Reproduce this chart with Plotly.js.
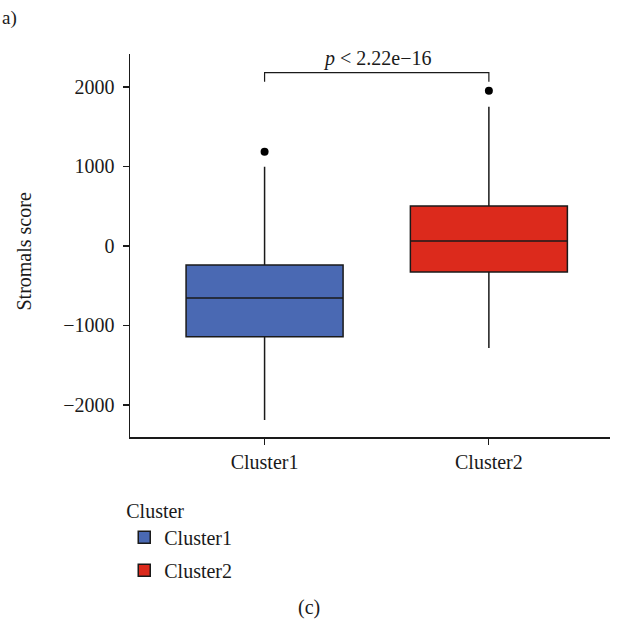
<!DOCTYPE html>
<html>
<head>
<meta charset="utf-8">
<script src="https://cdn.plot.ly/plotly-3.0.1.min.js"></script>
<style>html,body{margin:0;padding:0;background:#fff;}#chart{width:619px;height:626px;}</style>
</head>
<body>
<div id="chart"></div>
<script>
// ---- data ----
const categories = ['Cluster1', 'Cluster2'];
const q1Values = [-1141, -327];
const medianValues = [-656, 63];
const q3Values = [-239, 503];
const lowerFenceValues = [-2189, -1283];
const upperFenceValues = [997, 1752];
const outlierValues = [1186, 1953];
const boxColors = ['#4A69B3', '#DC2A1C'];
const bracketTop = 2180;
const bracketBottom = 2067;
const pLabel = '<i>p</i> < 2.22e\u221216';
const yTitle = 'Stromals score';
const yTickValues = [-2000, -1000, 0, 1000, 2000];
const yTickLabels = ['\u22122000', '\u22121000', '0', '1000', '2000'];

const fontFamily = '"Liberation Serif", "DejaVu Serif", serif';
const txt = '#1a1a1a';

const traces = categories.map((c, i) => ({
  type: 'box',
  name: c,
  legendgroup: c,
  x: [c],
  q1: [q1Values[i]],
  median: [medianValues[i]],
  q3: [q3Values[i]],
  lowerfence: [lowerFenceValues[i]],
  upperfence: [upperFenceValues[i]],
  fillcolor: boxColors[i],
  line: {color: '#1a1a1a', width: 1.5},
  whiskerwidth: 0,
  width: 0.7,
  boxpoints: false,
  hoverinfo: 'skip'
}));

traces.push({
  type: 'scatter', mode: 'markers',
  x: categories, y: outlierValues,
  marker: {color: '#000', size: 8},
  showlegend: false, hoverinfo: 'skip'
});

traces.push({
  type: 'scatter', mode: 'lines',
  x: [categories[0], categories[0], categories[1], categories[1]],
  y: [bracketBottom, bracketTop, bracketTop, bracketBottom],
  line: {color: '#1a1a1a', width: 1.2},
  showlegend: false, hoverinfo: 'skip'
});

const layout = {
  width: 619, height: 626,
  margin: {l: 130, r: 9, t: 54, b: 189},
  paper_bgcolor: '#fff', plot_bgcolor: '#fff',
  font: {family: fontFamily, size: 20, color: txt},
  showlegend: true,
  xaxis: {
    type: 'category',
    categoryarray: categories,
    range: [-0.6, 1.54],
    showgrid: false, zeroline: false,
    showline: true, linecolor: '#1a1a1a', linewidth: 1.5,
    ticks: 'outside', ticklen: 6, tickcolor: '#1a1a1a', tickwidth: 1.2,
    tickfont: {family: fontFamily, size: 20, color: txt},
    fixedrange: true
  },
  yaxis: {
    range: [-2403, 2415],
    tickvals: yTickValues, ticktext: yTickLabels,
    showgrid: false, zeroline: false,
    showline: true, linecolor: '#1a1a1a', linewidth: 1.5,
    ticks: 'outside', ticklen: 6, tickcolor: '#1a1a1a', tickwidth: 1.2,
    ticklabelstandoff: 4,
    tickfont: {family: fontFamily, size: 20, color: txt},
    automargin: false,
    fixedrange: true
  },
  legend: {
    title: {text: 'Cluster', font: {family: fontFamily, size: 20, color: txt}},
    x: -0.012, xanchor: 'left', y: -0.143, yanchor: 'top',
    orientation: 'v',
    traceorder: 'grouped',
    tracegroupgap: 4,
    font: {family: fontFamily, size: 20, color: txt},
    bgcolor: 'rgba(0,0,0,0)'
  },
  annotations: [
    {text: yTitle, xref: 'paper', yref: 'paper', x: -0.221, y: 0.484, xanchor: 'center', yanchor: 'middle',
     textangle: -90, showarrow: false, font: {family: fontFamily, size: 20, color: txt}},
    {text: pLabel, x: 0.5, y: bracketTop, xref: 'x', yref: 'y', yanchor: 'bottom', showarrow: false,
     yshift: 1, font: {family: fontFamily, size: 20, color: txt}},
    {text: 'a)', xref: 'paper', yref: 'paper', x: -0.2708, y: 1.094, xanchor: 'left', yanchor: 'middle',
     showarrow: false, font: {family: fontFamily, size: 19, color: txt}},
    {text: '(c)', xref: 'paper', yref: 'paper', x: 0.373, y: -0.446, xanchor: 'center', yanchor: 'middle',
     showarrow: false, font: {family: fontFamily, size: 20, color: txt}}
  ]
};

Plotly.newPlot('chart', traces, layout, {displayModeBar: false, staticPlot: true});
</script>
</body>
</html>
